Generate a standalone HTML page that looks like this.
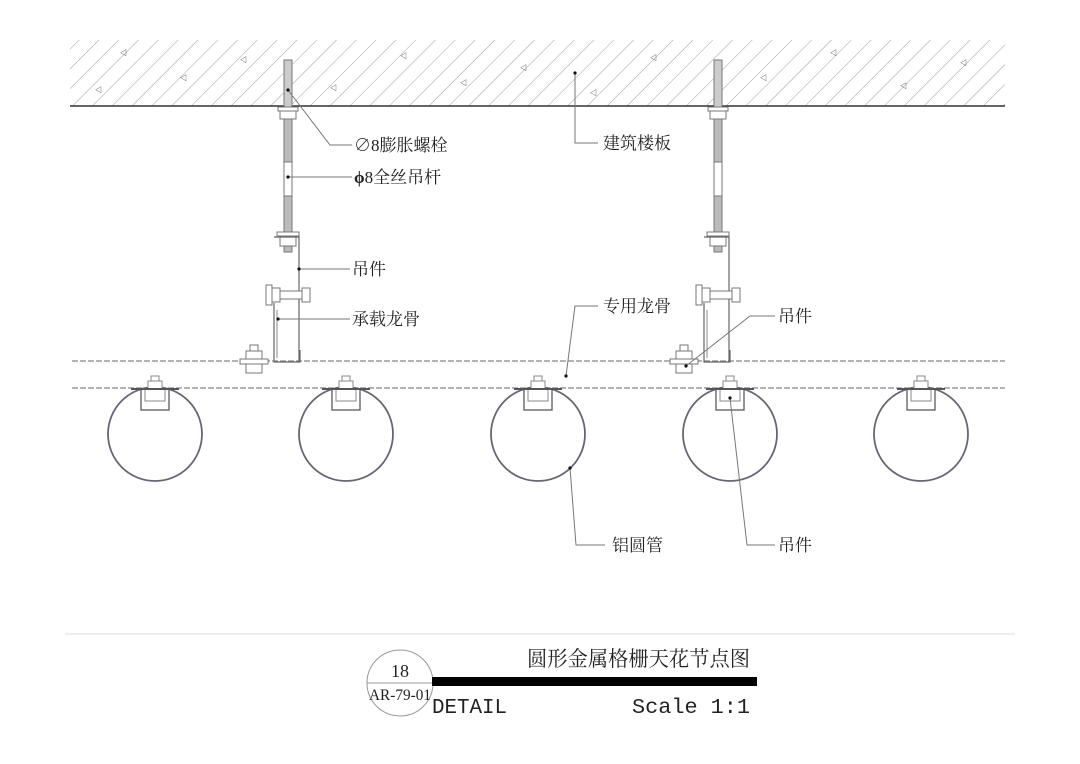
<!DOCTYPE html>
<html><head><meta charset="utf-8"><style>
html,body{margin:0;padding:0;background:#fff}
svg{display:block}
text{font-family:"Liberation Serif","Noto Serif CJK SC","Noto Sans CJK SC",serif;fill:#222}
text.mono{font-family:"Liberation Mono",monospace}
</style></head><body>
<svg width="1080" height="764" viewBox="0 0 1080 764" xmlns="http://www.w3.org/2000/svg">
<defs>
<pattern id="h" width="14" height="14" patternUnits="userSpaceOnUse" patternTransform="rotate(45)">
<line x1="0" y1="0" x2="0" y2="14" stroke="#888" stroke-width="0.8"/>
</pattern>
<clipPath id="slab"><rect x="70" y="40" width="935" height="66"/></clipPath>
<g id="hang">
<rect x="-4" y="60" width="8" height="192" fill="#fff" stroke="#777" stroke-width="1"/>
<rect x="-4" y="60" width="8" height="50" fill="#ccc" stroke="#777"/>
<rect x="-4" y="112" width="8" height="50" fill="#bbb" stroke="#777"/>
<rect x="-4" y="196" width="8" height="56" fill="#bbb" stroke="#777"/>
<rect x="-10" y="107" width="20" height="4" fill="#fff" stroke="#777"/>
<rect x="-8" y="111" width="16" height="8" fill="#fff" stroke="#777"/>
<rect x="-11" y="232" width="22" height="4" fill="#fff" stroke="#777"/>
<rect x="-8" y="236" width="16" height="10" fill="#fff" stroke="#777"/>
<polyline points="-14,237 11,237 11,362" fill="none" stroke="#666" stroke-width="1.2"/>
<rect x="-22" y="285" width="6" height="20" fill="#fff" stroke="#777"/>
<rect x="-16" y="288" width="8" height="14" fill="#fff" stroke="#777"/>
<rect x="-8" y="291" width="22" height="8" fill="#fff" stroke="#777"/>
<rect x="14" y="288" width="8" height="14" fill="#fff" stroke="#777"/>
<polyline points="-14,303 -14,362 12,362 12,350" fill="none" stroke="#666" stroke-width="1.2"/>
<line x1="-11" y1="310" x2="-11" y2="358" stroke="#888"/>
<rect x="-38" y="345" width="8" height="6" fill="#fff" stroke="#777"/>
<rect x="-42" y="351" width="16" height="8" fill="#fff" stroke="#777"/>
<rect x="-48" y="359" width="28" height="5" fill="#fff" stroke="#777"/>
<rect x="-42" y="364" width="16" height="9" fill="#fff" stroke="#777"/>
</g>
<g id="tube">
<circle cx="0" cy="434" r="47" fill="none" stroke="#667" stroke-width="1.8"/>
<rect x="-14" y="389" width="28" height="21" fill="#fff" stroke="#666" stroke-width="1.4"/>
<rect x="-10" y="389" width="20" height="12" fill="#fff" stroke="#888"/>
<rect x="-7" y="381" width="14" height="8" fill="#fff" stroke="#888"/>
<rect x="-4" y="376" width="8" height="5" fill="#fff" stroke="#888"/>
<line x1="-24" y1="389" x2="24" y2="389" stroke="#555" stroke-width="2"/>
</g>
</defs>
<rect x="70" y="40" width="935" height="66" fill="url(#h)"/>
<g clip-path="url(#slab)" fill="#999" font-size="7">
<text x="120" y="55">◁</text><text x="180" y="80">◁</text><text x="240" y="62">◁</text><text x="330" y="90">◁</text><text x="400" y="58">◁</text><text x="460" y="85">◁</text><text x="520" y="70">◁</text><text x="590" y="95">◁</text><text x="650" y="60">◁</text><text x="760" y="80">◁</text><text x="830" y="55">◁</text><text x="900" y="88">◁</text><text x="960" y="65">◁</text><text x="95" y="92">◁</text>
</g>
<line x1="70" y1="106" x2="1005" y2="106" stroke="#333" stroke-width="1.6"/>
<line x1="72" y1="361" x2="1005" y2="361" stroke="#888" stroke-width="1.2" stroke-dasharray="6,2"/>
<line x1="72" y1="388" x2="1005" y2="388" stroke="#888" stroke-width="1.2" stroke-dasharray="6,2"/>
<use href="#hang" x="288"/>
<use href="#hang" x="718"/>
<use href="#tube" x="155"/>
<use href="#tube" x="346"/>
<use href="#tube" x="538"/>
<use href="#tube" x="730"/>
<use href="#tube" x="921"/>
<g stroke="#777" stroke-width="1" fill="none">
<polyline points="288,90 330,145 352,145"/>
<line x1="288" y1="177" x2="352" y2="177"/>
<line x1="299" y1="269" x2="350" y2="269"/>
<line x1="278" y1="319" x2="350" y2="319"/>
<polyline points="575,73 575,143 598,143"/>
<polyline points="566,376 575,306 598,306"/>
<polyline points="686,366 750,316 775,316"/>
<polyline points="570,468 576,545 605,545"/>
<polyline points="730,398 747,545 775,545"/>
</g>
<g fill="#111">
<circle cx="288" cy="90" r="1.6"/><circle cx="288" cy="177" r="1.6"/><circle cx="299" cy="269" r="1.6"/><circle cx="278" cy="319" r="1.6"/><circle cx="575" cy="73" r="1.6"/><circle cx="566" cy="376" r="1.6"/><circle cx="686" cy="366" r="1.6"/><circle cx="570" cy="468" r="1.6"/><circle cx="730" cy="398" r="1.6"/>
</g>
<g font-size="17">
<text x="354" y="151">∅8膨胀螺栓</text>
<text x="354" y="183" font-weight="bold">ϕ<tspan font-weight="normal">8全丝吊杆</tspan></text>
<text x="352" y="275">吊件</text>
<text x="352" y="325">承载龙骨</text>
<text x="603" y="149">建筑楼板</text>
<text x="603" y="312">专用龙骨</text>
<text x="778" y="322">吊件</text>
<text x="612" y="551">铝圆管</text>
<text x="778" y="551">吊件</text>
</g>
<line x1="65" y1="634" x2="1015" y2="634" stroke="#ddd" stroke-width="1"/>
<circle cx="400" cy="683" r="33" fill="none" stroke="#999" stroke-width="1"/>
<line x1="367" y1="683" x2="433" y2="683" stroke="#999"/>
<rect x="432" y="677" width="325" height="9" fill="#000"/>
<text x="400" y="677" font-size="18" text-anchor="middle">18</text>
<text x="400" y="700" font-size="16" text-anchor="middle" textLength="62" lengthAdjust="spacingAndGlyphs">AR-79-01</text>
<text x="527" y="666" font-size="21" textLength="223" lengthAdjust="spacingAndGlyphs">圆形金属格栅天花节点图</text>
<text x="432" y="713" font-size="21" class="mono" textLength="75" lengthAdjust="spacingAndGlyphs">DETAIL</text>
<text x="632" y="713" font-size="21" class="mono" textLength="118" lengthAdjust="spacingAndGlyphs">Scale 1:1</text>
</svg>
</body></html>
